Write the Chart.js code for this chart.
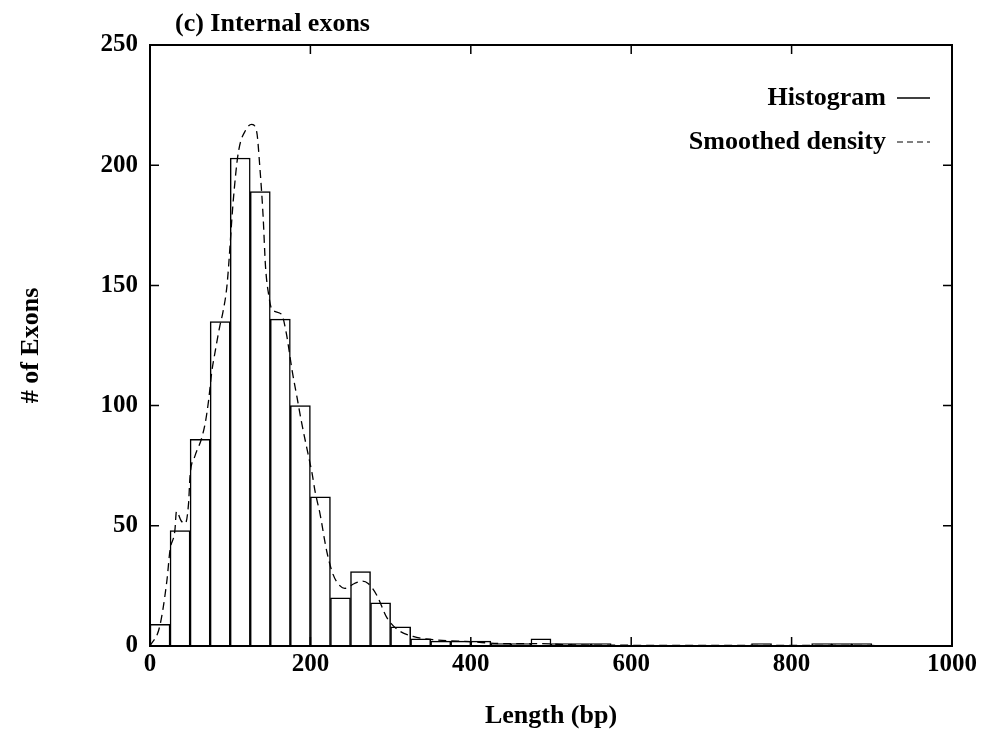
<!DOCTYPE html>
<html>
<head>
<meta charset="utf-8">
<script src="https://cdn.jsdelivr.net/npm/chart.js@4.4.0/dist/chart.umd.min.js"></script>
<style>
  html, body { margin: 0; padding: 0; background: #fff; }
  #wrap { width: 982px; height: 734px; }
</style>
</head>
<body>
<div id="wrap"><canvas id="exonChart" width="982" height="734"></canvas></div>
<script>
// Histogram : classes de 25 pb, de 0 à 1000
const binWidth = 25;
const binStarts = [0, 25, 50, 75, 100, 125, 150, 175, 200, 225, 250, 275, 300, 325, 350, 375, 400, 425, 450, 475,
                   500, 525, 550, 575, 600, 625, 650, 675, 700, 725, 750, 775, 800, 825, 850, 875, 900, 925, 950, 975];
const binCounts = [9, 48, 86, 135, 203, 189, 136, 100, 62, 20, 31, 18, 8, 3, 2, 2, 2, 1, 1, 3,
                   1, 1, 1, 0, 0, 0, 0, 0, 0, 0, 1, 0, 0, 1, 1, 1, 0, 0, 0, 0];

// Densité lissée (courbe en tirets)
const densX = [0, 12, 21, 25, 31, 33, 39, 44, 48, 50, 56, 64, 69, 73, 77, 81, 87, 91, 96, 104, 110, 120, 127, 133,
               137, 141, 144, 148, 152, 164, 170, 177, 183, 189, 197, 202, 206, 212, 220, 228, 237, 243, 255, 265,
               272, 283, 295, 308, 328, 357, 399, 440, 482, 524, 600, 700, 800, 900, 1000];
const densY = [0, 8, 27, 40, 48, 56, 52, 51, 59, 71, 79, 86, 93, 102, 114, 122, 133, 139, 150, 186, 205, 215, 217, 214,
               199, 179, 158, 146, 140, 138, 130, 115, 104, 93, 80, 72, 64, 55, 40, 30, 25, 24, 26, 27,
               26, 21, 12, 7, 4, 2.5, 1.8, 1, 1, 0.5, 0.3, 0.2, 0.3, 0.2, 0];

const xTicks = [0, 200, 400, 600, 800, 1000];
const yTicks = [0, 50, 100, 150, 200, 250];

const titleText = '(c) Internal exons';
const legendLabels = ['Histogram', 'Smoothed density'];

const serif = '"Liberation Serif", "DejaVu Serif", serif';

// Cadre, graduations vers l'intérieur, titre et légende
const framePlugin = {
    id: 'frame',
    afterDraw(chart) {
        const { ctx, chartArea: a, scales } = chart;
        const tick = 9;
        ctx.save();
        ctx.strokeStyle = '#000';
        ctx.lineWidth = 2;
        ctx.strokeRect(a.left, a.top, a.right - a.left, a.bottom - a.top);

        ctx.lineWidth = 1.5;
        ctx.beginPath();
        xTicks.forEach(v => {
            const px = scales.x.getPixelForValue(v);
            ctx.moveTo(px, a.bottom); ctx.lineTo(px, a.bottom - tick);
            ctx.moveTo(px, a.top); ctx.lineTo(px, a.top + tick);
        });
        yTicks.forEach(v => {
            const py = scales.y.getPixelForValue(v);
            ctx.moveTo(a.left, py); ctx.lineTo(a.left + tick, py);
            ctx.moveTo(a.right, py); ctx.lineTo(a.right - tick, py);
        });
        ctx.stroke();

        // titre du panneau
        ctx.fillStyle = '#000';
        ctx.font = 'bold 26px ' + serif;
        ctx.textAlign = 'left';
        ctx.textBaseline = 'middle';
        ctx.fillText(titleText, a.left + 25, a.top - 21);

        // légende : texte puis échantillon de trait
        ctx.font = 'bold 26px ' + serif;
        ctx.textAlign = 'right';
        const lx = a.right - 66;
        const rows = [a.top + 53, a.top + 97];
        ctx.fillText(legendLabels[0], lx, rows[0]);
        ctx.fillText(legendLabels[1], lx, rows[1]);
        ctx.lineWidth = 1.5;
        ctx.beginPath();
        ctx.moveTo(lx + 11, rows[0]); ctx.lineTo(lx + 44, rows[0]);
        ctx.stroke();
        ctx.lineWidth = 1;
        ctx.setLineDash([6, 4]);
        ctx.beginPath();
        ctx.moveTo(lx + 11, rows[1]); ctx.lineTo(lx + 44, rows[1]);
        ctx.stroke();
        ctx.restore();
    }
};

document.addEventListener('DOMContentLoaded', () => {
    const ctx = document.getElementById('exonChart').getContext('2d');

    new Chart(ctx, {
        type: 'bar',
        data: {
            datasets: [{
                type: 'bar',
                label: legendLabels[0],
                data: binStarts.map((s, i) => ({ x: s + binWidth / 2, y: binCounts[i] })),
                backgroundColor: '#fff',
                borderColor: '#000',
                borderWidth: 1.5,
                barPercentage: 1,
                categoryPercentage: 1,
                order: 2
            }, {
                type: 'line',
                label: legendLabels[1],
                data: densX.map((x, i) => ({ x: x, y: densY[i] })),
                borderColor: '#000',
                borderWidth: 1.3,
                borderDash: [8, 5],
                pointRadius: 0,
                fill: false,
                cubicInterpolationMode: 'monotone',
                order: 1
            }]
        },
        options: {
            responsive: false,
            animation: false,
            layout: { padding: { top: 45, right: 30, bottom: 0, left: 0 } },
            plugins: {
                legend: { display: false },
                tooltip: { enabled: false }
            },
            scales: {
                x: {
                    type: 'linear',
                    offset: false,
                    min: 0,
                    max: 1000,
                    afterFit(scale) { scale.height = 88; },
                    afterBuildTicks(scale) { scale.ticks = xTicks.map(v => ({ value: v })); },
                    grid: { display: false, drawTicks: false },
                    border: { display: false },
                    ticks: {
                        color: '#000',
                        padding: 4,
                        maxRotation: 0,
                        callback: v => String(v),
                        font: { family: serif, size: 25, weight: 'bold' }
                    },
                    title: {
                        display: true,
                        text: 'Length (bp)',
                        color: '#000',
                        padding: { top: 0, bottom: 2 },
                        font: { family: serif, size: 26, weight: 'bold' }
                    }
                },
                y: {
                    min: 0,
                    max: 250,
                    afterFit(scale) { scale.width = 150; },
                    afterBuildTicks(scale) { scale.ticks = yTicks.map(v => ({ value: v })); },
                    grid: { display: false, drawTicks: false },
                    border: { display: false },
                    ticks: {
                        color: '#000',
                        padding: 12,
                        font: { family: serif, size: 25, weight: 'bold' }
                    },
                    title: {
                        display: true,
                        text: '# of Exons',
                        color: '#000',
                        padding: { top: 16, bottom: 0 },
                        font: { family: serif, size: 26, weight: 'bold' }
                    }
                }
            }
        },
        plugins: [framePlugin]
    });
});
</script>
</body>
</html>
